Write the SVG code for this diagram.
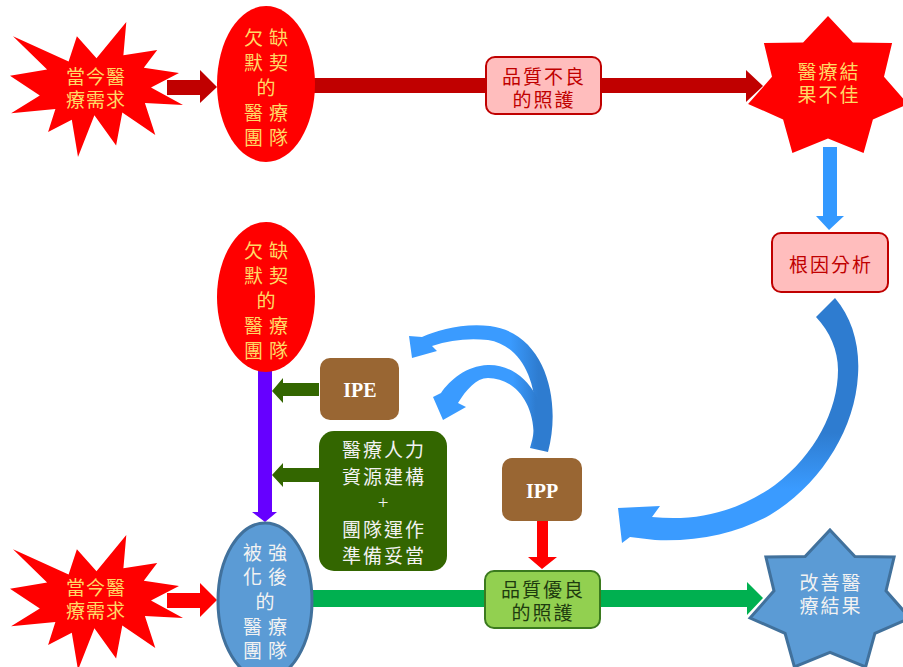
<svg xmlns="http://www.w3.org/2000/svg" width="903" height="667" viewBox="0 0 903 667">
<defs>
<style>
.cjk{font-family:"Liberation Serif","Noto Sans CJK TC","Noto Sans CJK SC",serif;text-anchor:middle}
.yel{fill:#FFD966;font-size:19px}
.wht{fill:#F2F2F2;font-size:19px}
.dred{fill:#C00000;font-size:19px}
.dgrn{fill:#1E3B0F;font-size:19px}
.lat{font-family:"Liberation Serif",serif;font-weight:bold;font-size:20px;fill:#FFFFFF;text-anchor:middle}
.pink{fill:#FFBDBD;stroke:#C00000;stroke-width:2}
.brown{fill:#996633}
</style>
<polygon id="boom" points="96.5,58.3 126.3,22 123.4,55.3 157.2,49.9 143.8,67.7 179,72.9 151,87.5 183,105.1 144.9,102.9 155.3,135.1 122.3,112.4 116.1,145.4 94.4,115.3 78,157 71.8,119.7 48.1,132.1 55.4,109.1 11.1,113.2 39.8,95.6 10,75.8 47.1,69.6 13,36.3 68.6,61.5 76.9,36.3"/>
<polygon id="star7" points="0,-72 24.9,-45.4 64.1,-44.9 56,-11.2 79.9,16 44.9,31.4 35.6,64.9 0,50.4 -35.6,64.9 -44.9,31.4 -79.9,16 -56,-11.2 -64.1,-44.9 -24.9,-45.4"/>
<linearGradient id="bigG" x1="0" y1="0" x2="0" y2="1">
<stop offset="0" stop-color="#2E7CD0"/>
<stop offset="0.55" stop-color="#2E7CD0"/>
<stop offset="0.78" stop-color="#3A9BFF"/>
<stop offset="1" stop-color="#3A9BFF"/>
</linearGradient>
<linearGradient id="smG" x1="0" y1="0" x2="1" y2="0">
<stop offset="0" stop-color="#3A9BFF"/>
<stop offset="0.7" stop-color="#3A9BFF"/>
<stop offset="0.9" stop-color="#2E7CD0"/>
<stop offset="1" stop-color="#2E7CD0"/>
</linearGradient>
</defs>
<rect width="903" height="667" fill="#FFFFFF"/>

<g id="connectors">
<polygon fill="#C00000" points="167,80 200,80 200,70 217,87 200,103 200,95 167,95"/>
<polygon fill="#C00000" points="312,78 746,78 746,70 763,86 746,102 746,93 312,93"/>
<polygon fill="#3399FF" points="823,147 837,147 837,216 844,216 829,230 816,216 823,216"/>
<path fill="url(#bigG)" d="M 816,317 L 835,298 C 852,318 860,345 858,375 C 855,430 820,485 770,515 C 740,532 700,542 655,540 L 630,537 L 622,543 L 618,508 L 660,506 L 652,517 C 700,522 740,510 775,485 C 815,455 838,410 838,370 C 838,350 830,332 816,317 Z"/>
<path fill="url(#smG)" d="M 530,448 L 548,452 C 562,400 545,333 490,326 C 462,323 438,330 422,337 L 409,336 L 412,358 L 437,351 L 432,346 C 450,340 468,338 488,340 C 528,346 545,400 530,448 Z"/>
<path fill="url(#smG)" d="M 533,447 L 547,448 C 550,400 522,364 488,365 C 466,366 450,380 441,393 L 433,397 L 443,420 L 466,407 L 458,403 C 466,390 476,378 488,378 C 515,378 538,405 533,447 Z"/>
<polygon fill="#6600FF" points="258,368 272,368 272,512 277,512 265,522 252,512 258,512"/>
<polygon fill="#336600" points="319,383 283,383 283,378 272,391 283,403 283,396 319,396"/>
<polygon fill="#336600" points="319,468 283,468 283,463 272,475 283,487 283,482 319,482"/>
<polygon fill="#FF0000" points="537,521 548,521 548,557 557,557 542,569 528,557 537,557"/>
<polygon fill="#FF0000" points="167,593 200,593 200,583 217,600 200,617 200,608 167,608"/>
<polygon fill="#00B050" points="310,590 747,590 747,582 763,598 747,615 747,607 310,607"/>
</g>

<g id="need-top">
<use href="#boom" fill="#FF0000"/>
<text class="cjk yel" letter-spacing="1"><tspan x="96" y="84">當今醫</tspan><tspan x="96" y="107">療需求</tspan></text>
</g>

<g id="team-weak-top">
<ellipse cx="266" cy="84" rx="49" ry="78" fill="#FF0000"/>
<text class="cjk yel" letter-spacing="6"><tspan x="269" y="45">欠缺</tspan><tspan x="269" y="70">默契</tspan><tspan x="269" y="95">的</tspan><tspan x="269" y="120">醫療</tspan><tspan x="269" y="145">團隊</tspan></text>
</g>

<g id="poor-care">
<rect class="pink" x="486" y="57" width="115" height="57" rx="9"/>
<text class="cjk dred" letter-spacing="2"><tspan x="544" y="84">品質不良</tspan><tspan x="544" y="107">的照護</tspan></text>
</g>

<g id="bad-outcome">
<use href="#star7" transform="translate(828,88)" fill="#FF0000"/>
<text class="cjk yel" letter-spacing="2"><tspan x="829" y="79">醫療結</tspan><tspan x="829" y="102">果不佳</tspan></text>
</g>

<g id="root-cause">
<rect class="pink" x="772" y="233" width="116" height="59" rx="9"/>
<text class="cjk dred" x="831" y="272" letter-spacing="2">根因分析</text>
</g>

<g id="team-weak-mid">
<ellipse cx="266" cy="297" rx="49" ry="75" fill="#FF0000"/>
<text class="cjk yel" letter-spacing="6"><tspan x="269" y="258">欠缺</tspan><tspan x="269" y="283">默契</tspan><tspan x="269" y="308">的</tspan><tspan x="269" y="333">醫療</tspan><tspan x="269" y="358">團隊</tspan></text>
</g>

<g id="ipe">
<rect class="brown" x="320" y="358" width="79" height="62" rx="10"/>
<text class="lat" x="360" y="397">IPE</text>
</g>

<g id="resources">
<rect x="319" y="431" width="128" height="140" rx="15" fill="#336600"/>
<text class="cjk wht" letter-spacing="2"><tspan x="384" y="457">醫療人力</tspan><tspan x="384" y="484">資源建構</tspan><tspan x="384" y="509">+</tspan><tspan x="384" y="537">團隊運作</tspan><tspan x="384" y="563">準備妥當</tspan></text>
</g>

<g id="ipp">
<rect class="brown" x="502" y="458" width="80" height="63" rx="10"/>
<text class="lat" x="542" y="498">IPP</text>
</g>

<g id="need-bottom">
<use href="#boom" transform="translate(0,513)" fill="#FF0000"/>
<text class="cjk yel" letter-spacing="1"><tspan x="96" y="595">當今醫</tspan><tspan x="96" y="618">療需求</tspan></text>
</g>

<g id="team-strong">
<ellipse cx="265" cy="601" rx="47" ry="78" fill="#5B9BD5" stroke="#41719C" stroke-width="3"/>
<text class="cjk wht" letter-spacing="6"><tspan x="268" y="560">被強</tspan><tspan x="268" y="584">化後</tspan><tspan x="268" y="609">的</tspan><tspan x="268" y="634">醫療</tspan><tspan x="268" y="658">團隊</tspan></text>
</g>

<g id="good-care">
<rect x="485" y="571" width="115" height="57" rx="9" fill="#92D050" stroke="#3B7A1E" stroke-width="2"/>
<text class="cjk dgrn" letter-spacing="2"><tspan x="543" y="597">品質優良</tspan><tspan x="543" y="620">的照護</tspan></text>
</g>

<g id="good-outcome">
<use href="#star7" transform="translate(830,602)" fill="#5B9BD5" stroke="#41719C" stroke-width="3"/>
<text class="cjk wht" letter-spacing="2"><tspan x="831" y="590">改善醫</tspan><tspan x="831" y="613">療結果</tspan></text>
</g>
</svg>
